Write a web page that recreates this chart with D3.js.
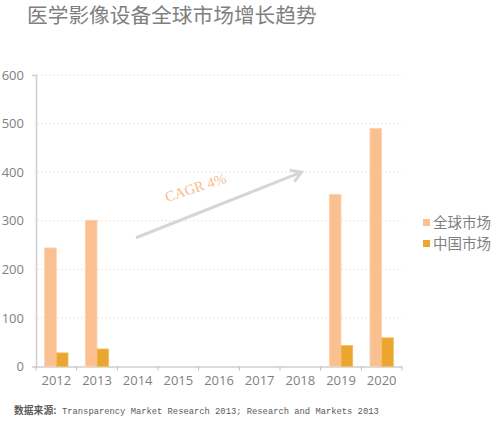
<!DOCTYPE html>
<html><head><meta charset="utf-8">
<script src="https://cdn.jsdelivr.net/npm/d3@7"></script>
<style>
html,body{margin:0;padding:0;background:#fff;}
svg{display:block;}
</style></head>
<body>
<svg id="chart" width="500" height="425"></svg>
<script>
const title = "医学影像设备全球市场增长趋势";
const years = ["2012","2013","2014","2015","2016","2017","2018","2019","2020"];
const globalMarket = [244, 301, null, null, null, null, null, 354, 490];
const chinaMarket = [28, 36, null, null, null, null, null, 43, 59];
const seriesNames = ["全球市场", "中国市场"];
const yTicks = [0, 100, 200, 300, 400, 500, 600];
const cagrLabel = "CAGR 4%";
const sourceLabel = "数据来源:";
const sourceText = "Transparency Market Research 2013; Research and Markets 2013";

const colors = ["#FAC090", "#EBA630"];
const svg = d3.select("#chart");
const plotLeft = 36, plotRight = 402, plotTop = 75, plotBottom = 366.5;

const x = d3.scaleBand().domain(years).range([plotLeft, plotRight]).padding(0);
const x1 = d3.scaleBand().domain([0,1]).range([0, x.bandwidth()]).paddingInner(0).paddingOuter(0.74);
const y = d3.scaleLinear().domain([0, 600]).range([plotBottom, plotTop]);

// title
svg.append("text").attr("x", 27).attr("y", 23)
  .attr("font-family", "'Noto Sans CJK SC', sans-serif").attr("font-size", 20.7)
  .attr("fill", "#7f7f7f").text(title);

// gridlines
svg.append("g").selectAll("line").data(yTicks.filter(d => d > 0)).join("line")
  .attr("x1", plotLeft + 1).attr("x2", plotRight).attr("y1", d => y(d)).attr("y2", d => y(d))
  .attr("stroke", "#FCE0CC").attr("stroke-width", 1).attr("stroke-dasharray", "2,2");

// y axis
const yAxis = svg.append("g").attr("transform", `translate(${plotLeft},0)`)
  .call(d3.axisLeft(y).tickValues(yTicks).tickSizeInner(0).tickSizeOuter(4).tickPadding(12));
yAxis.select(".domain").attr("stroke", "#cfcfcf").attr("stroke-width", 1.5);
yAxis.selectAll("text").attr("font-family", "'Open Sans', 'Liberation Sans', sans-serif")
  .attr("font-size", 13).attr("fill", "#7f7f7f");

// x axis
const xAxis = svg.append("g").attr("transform", `translate(0,${plotBottom})`)
  .call(d3.axisBottom(x).tickSize(0).tickPadding(9));
xAxis.select(".domain").attr("stroke", "#cfcfcf").attr("stroke-width", 1.5);
xAxis.selectAll("text").attr("font-family", "'Open Sans', 'Liberation Sans', sans-serif")
  .attr("font-size", 13).attr("fill", "#7f7f7f");
xAxis.append("g").selectAll("line").data(years.concat(["end"])).join("line")
  .attr("x1", (d,i) => plotLeft + i * x.bandwidth()).attr("x2", (d,i) => plotLeft + i * x.bandwidth())
  .attr("y1", 0).attr("y2", 4).attr("stroke", "#bfbfbf").attr("stroke-width", 1);

// bars
const series = [globalMarket, chinaMarket];
series.forEach((vals, si) => {
  svg.append("g").selectAll("rect")
    .data(years.map((yr, i) => ({yr, v: vals[i]})).filter(d => d.v != null))
    .join("rect")
    .attr("x", d => x(d.yr) + x1(si))
    .attr("width", x1.bandwidth())
    .attr("y", d => y(d.v))
    .attr("height", d => y(0) - y(d.v))
    .attr("fill", colors[si])
    .attr("stroke", si === 0 ? "#FCD3B0" : "#F2BE5E").attr("stroke-width", 0.8);
});

// arrow
const arr = svg.append("g");
const ax1 = x("2014") + 0.46 * x.bandwidth(), ay1 = y(265);
const ax2 = x("2018") + 0.53 * x.bandwidth(), ay2 = y(400);
arr.append("line").attr("x1", ax1).attr("y1", ay1).attr("x2", ax2).attr("y2", ay2)
  .attr("stroke", "#D6D6D6").attr("stroke-width", 3);
const ang = Math.atan2(ay2 - ay1, ax2 - ax1);
const hl = 12, ha = 0.55;
arr.append("path")
  .attr("d", `M${ax2 - hl*Math.cos(ang - ha)},${ay2 - hl*Math.sin(ang - ha)} L${ax2},${ay2} L${ax2 - hl*Math.cos(ang + ha)},${ay2 - hl*Math.sin(ang + ha)}`)
  .attr("fill", "none").attr("stroke", "#D6D6D6").attr("stroke-width", 3)
  .attr("stroke-linejoin", "miter").attr("stroke-linecap", "butt");

svg.append("text").attr("transform", `translate(167,202) rotate(-18)`)
  .attr("font-family", "'Liberation Serif', 'DejaVu Serif', serif").attr("font-size", 14.5)
  .attr("fill", "#F9BB8C").text(cagrLabel);

// legend
const lg = svg.append("g").attr("transform", "translate(423,216)");
seriesNames.forEach((n, i) => {
  lg.append("rect").attr("x", 0).attr("y", i * 21 + 3).attr("width", 7).attr("height", 7).attr("fill", colors[i]);
  lg.append("text").attr("x", 10).attr("y", i * 21 + 6.5).attr("dy", "0.35em")
    .attr("font-family", "'Noto Sans CJK SC', sans-serif").attr("font-size", 14.5)
    .attr("fill", "#7f7f7f").text(n);
});

// source
svg.append("text").attr("x", 14).attr("y", 414)
  .attr("font-family", "'Noto Sans CJK SC', sans-serif").attr("font-size", 9.8)
  .attr("font-weight", "bold").attr("fill", "#595959").text(sourceLabel);
svg.append("text").attr("x", 62).attr("y", 414)
  .attr("font-family", "'Liberation Mono', 'DejaVu Sans Mono', monospace").attr("font-size", 8.8)
  .attr("fill", "#595959").text(sourceText);
</script>
</body></html>
